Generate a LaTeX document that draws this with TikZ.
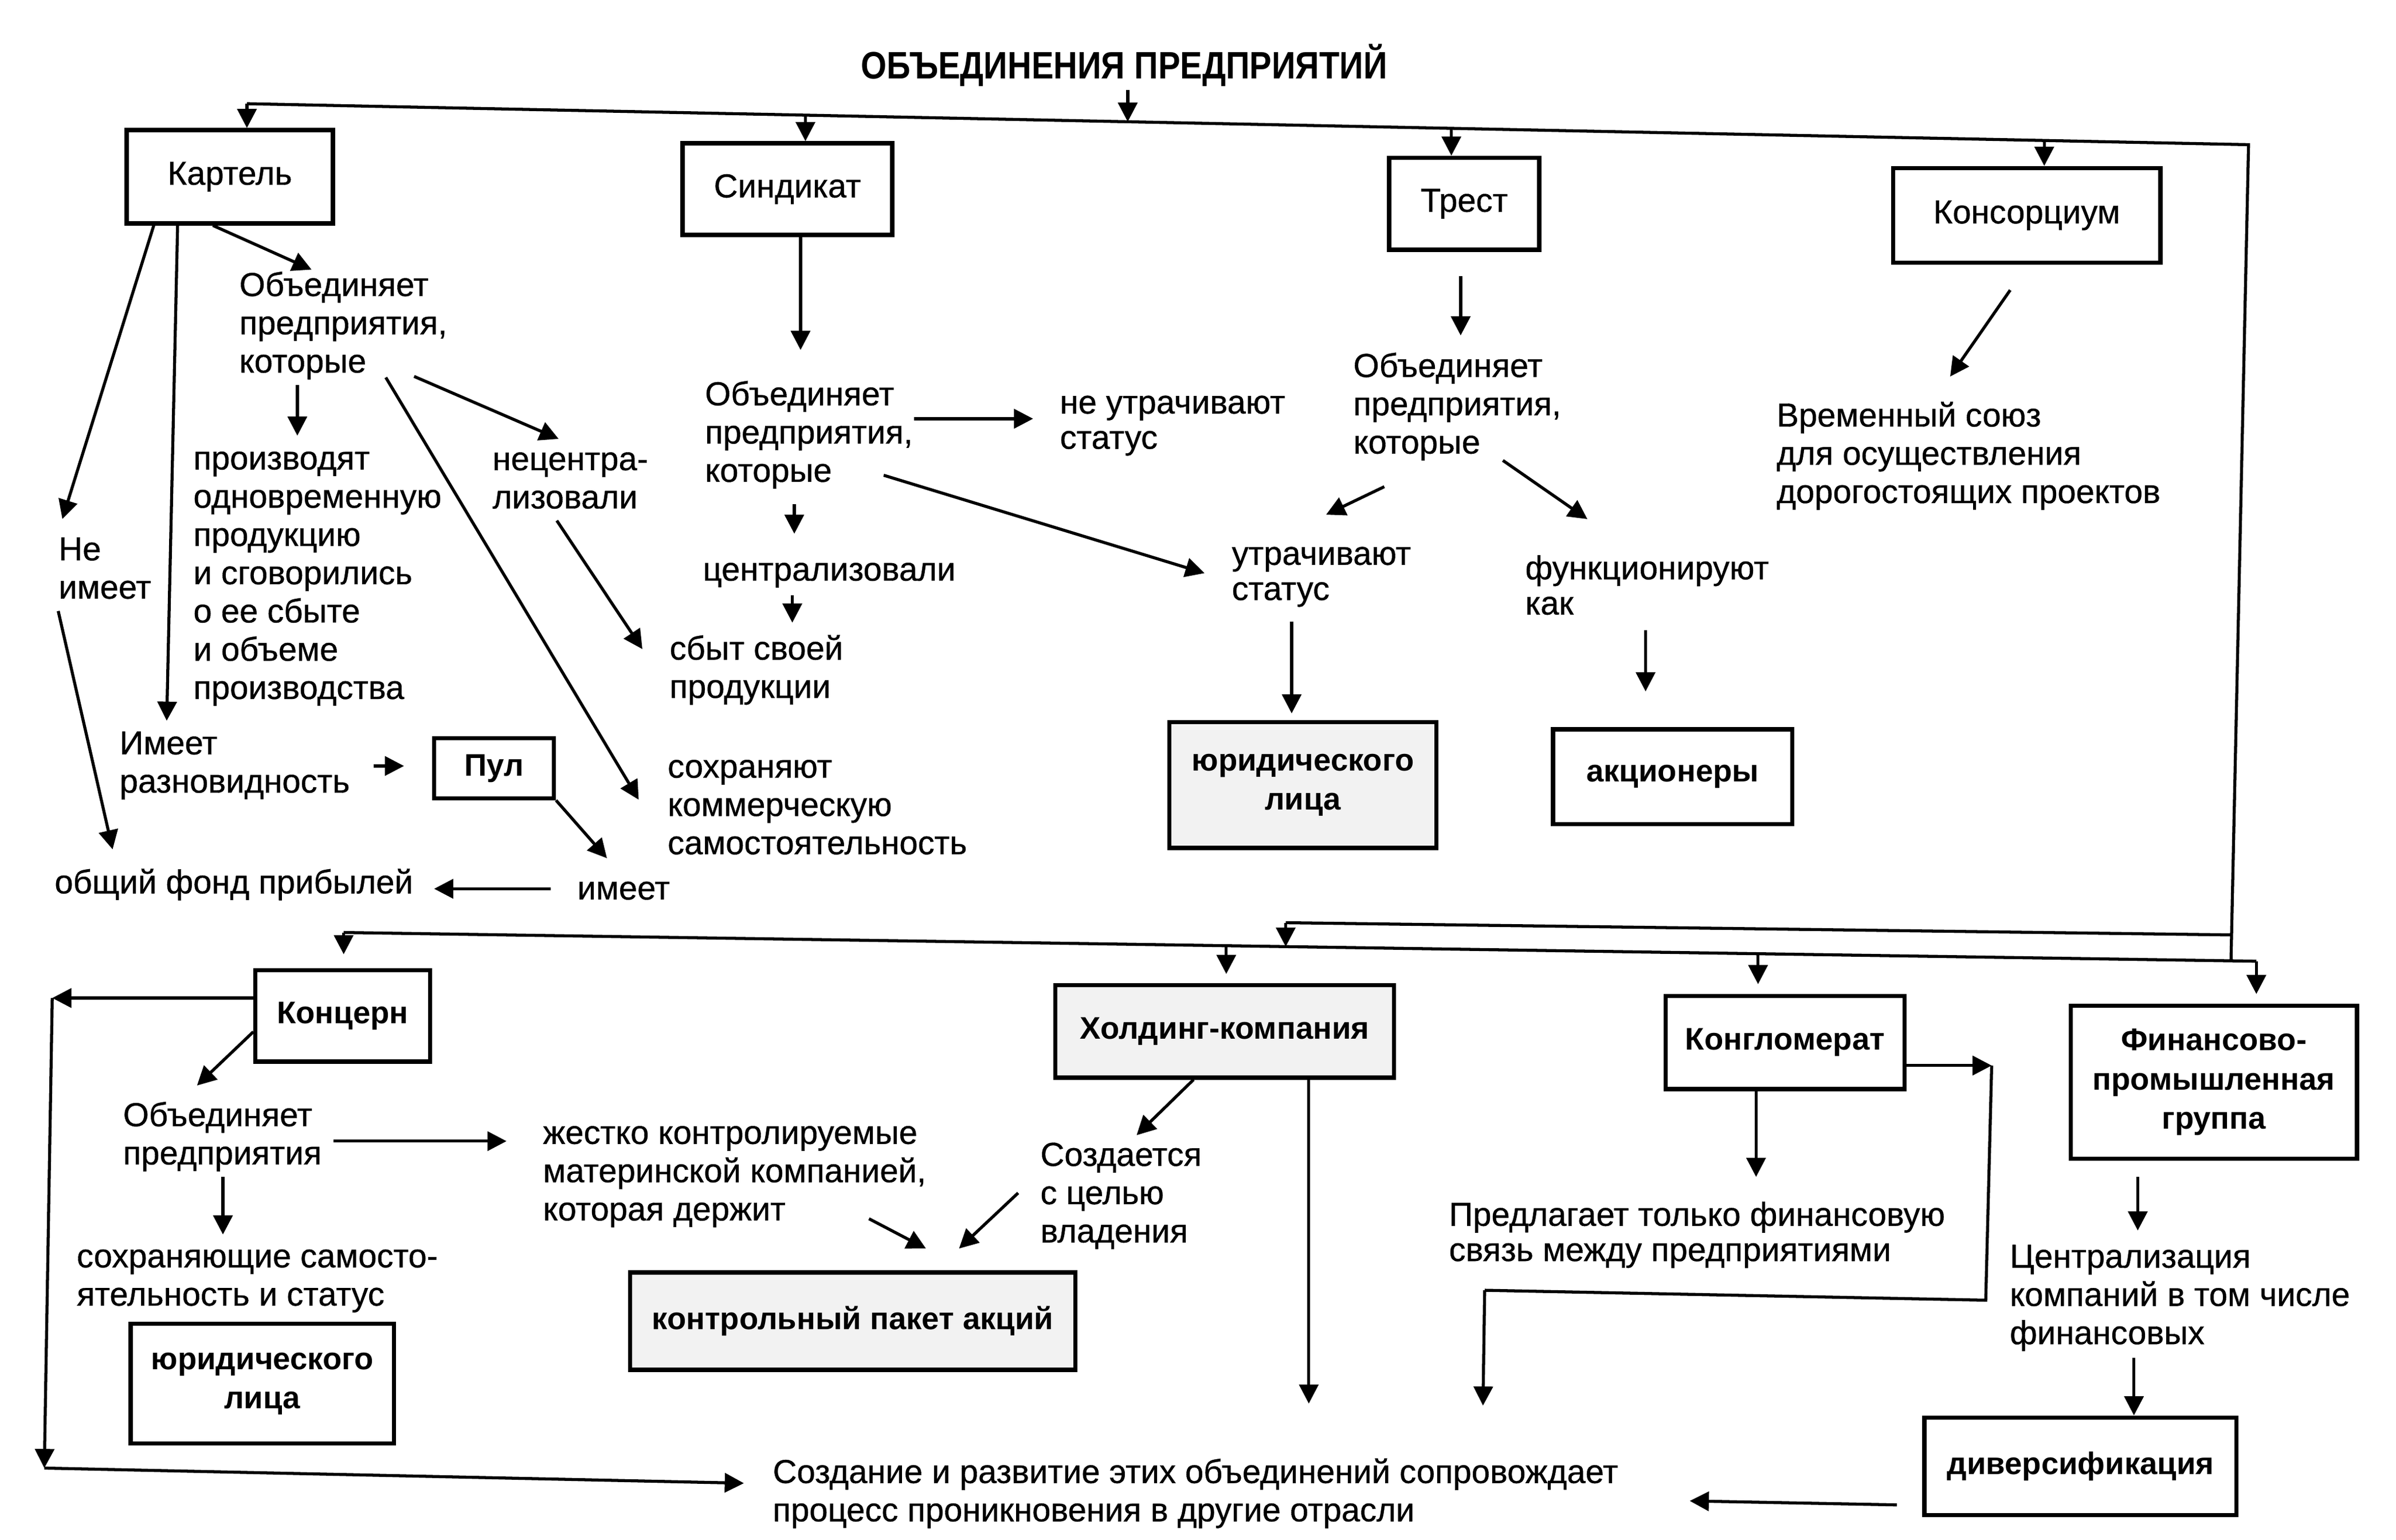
\documentclass[tikz,border=0pt]{standalone}
\usepackage{fontspec}
\setmainfont{Liberation Sans}[UprightFeatures={FakeBold=0.6}]
\usepackage{graphicx}
\usetikzlibrary{arrows.meta,calc}
\newcommand\fsN{\fontsize{16.5pt}{19pt}\selectfont}
\newcommand\fsT{\fontsize{16.5pt}{17.5pt}\selectfont}
\newcommand\fsB{\fontsize{15.5pt}{19.5pt}\selectfont\bfseries}
\tikzset{
  box/.style n args={2}{draw, line width=2.1pt, inner sep=0pt, minimum width=#1*0.26665mm,
    minimum height=#2*0.26665mm, align=center, font=\fsN},
  bbox/.style={font=\fsB, fill=black!5},
  ln/.style={line width=1.5pt, line join=miter},
  arr/.style={ln, -{Triangle[length=9.5pt,width=9.5pt]}},
  txt/.style={anchor=north west, inner sep=0pt, align=left, font=\fsN},
}
\begin{document}
\begin{tikzpicture}[x=0.26665mm, y=-0.26665mm]
\useasboundingbox (0,0) rectangle (1568,1008);

% ---------- title ----------
\node[anchor=base, inner sep=0pt, font=\fontsize{19pt}{20pt}\selectfont\bfseries] (title) at (735.7,51.7)
  {\scalebox{0.865}[1]{ОБЪЕДИНЕНИЯ ПРЕДПРИЯТИЙ}};

% ---------- boxes ----------
\node[box={135}{61}] (kart) at (150.4,115.7) {Картель};
\node[box={137.3}{60}] (sind) at (515.3,123.8) {Синдикат};
\node[box={98.3}{60.2}] (trest) at (958.2,133.4) {Трест};
\node[box={175}{62}] (kons) at (1326.3,141) {Консорциум};
\node[box={78.4}{39.2}, font=\fsB] (pul) at (323.3,502.9) {Пул};
\node[box={174.7}{82.2}, bbox] (yur1) at (852.6,513.9) {юридического\\лица};
\node[box={156.5}{62.1}, font=\fsB] (akc) at (1094.6,508.5) {акционеры};
\node[box={114.4}{59.9}, font=\fsB] (konc) at (224.3,665) {Концерн};
\node[box={221.7}{60.5}, bbox] (hold) at (801.5,675.2) {Холдинг-компания};
\node[box={156.5}{61}, font=\fsB] (kongl) at (1168.2,682.5) {Конгломерат};
\node[box={187.4}{100.1}, font=\fsB] (fpg) at (1448.8,708.5) {Финансово-\\промышленная\\группа};
\node[box={172.3}{78.2}, font=\fsB] (yur2) at (171.6,905.7) {юридического\\лица};
\node[box={291.3}{63.7}, bbox] (kpa) at (558,864.8) {контрольный пакет акций};
\node[box={204.2}{63.8}, font=\fsB] (div) at (1361.5,959.8) {диверсификация};

% ---------- texts: cartel ----------
\node[txt] (kobj) at (156.4,176) {\strut Объединяет\\\strut предприятия,\\\strut которые};
\node[txt] (kpro) at (126.3,289.5) {\strut производят\\\strut одновременную\\\strut продукцию\\\strut и сговорились\\\strut о ее сбыте\\\strut и объеме\\\strut производства};
\node[txt] (kdec) at (322.1,290) {\strut нецентра-\\\strut лизовали};
\node[txt] (kne) at (38.1,349) {\strut Не\\\strut имеет};
\node[txt] (kime) at (78,476) {\strut Имеет\\\strut разновидность};
\node[txt] (kfond) at (35.5,567) {\strut общий фонд прибылей};
\node[txt] (kimt) at (377.6,571) {\strut имеет};
\node[txt] (sbyt) at (438,414) {\strut сбыт своей\\\strut продукции};
\node[txt] (ksoh) at (436.7,491.3) {\strut сохраняют\\\strut коммерческую\\\strut самостоятельность};
% syndicate
\node[txt] (scen) at (459.7,362.3) {\strut централизовали};
\node[txt] (sobj) at (461.1,247.5) {\strut Объединяет\\\strut предприятия,\\\strut которые};
\node[txt, font=\fsT] (sne) at (693.4,254.3) {\strut не утрачивают\\\strut статус};
% trust
\node[txt] (tobj) at (885.4,229) {\strut Объединяет\\\strut предприятия,\\\strut которые};
\node[txt, font=\fsT] (tutr) at (805.9,353.3) {\strut утрачивают\\\strut статус};
\node[txt, font=\fsT] (tfun) at (997.9,362.8) {\strut функционируют\\\strut как};
% consortium
\node[txt] (kvr) at (1162.4,261.4) {\strut Временный союз\\\strut для осуществления\\\strut дорогостоящих проектов};
% lower
\node[txt] (cobj) at (80.3,719.4) {\strut Объединяет\\\strut предприятия};
\node[txt] (csoh) at (50,811.8) {\strut сохраняющие самосто-\\\strut ятельность и статус};
\node[txt] (zhes) at (355.1,731) {\strut жестко контролируемые\\\strut материнской компанией,\\\strut которая держит};
\node[txt] (hsoz) at (680.6,745.4) {\strut Создается\\\strut с целью\\\strut владения};
\node[txt, font=\fsT] (kpred) at (948,786) {\strut Предлагает только финансовую\\\strut связь между предприятиями};
\node[txt] (fcen) at (1315,812) {\strut Централизация\\\strut компаний в том числе\\\strut финансовых};
\node[txt] (sozd) at (505.5,953) {\strut Создание и развитие этих объединений сопровождает\\\strut процесс проникновения в другие отрасли};

% ---------- coordinates ----------
\coordinate (T0) at (161.6,67.9);
\coordinate (TR) at (1471.5,94.7);
\coordinate (RB) at (1460,629);
\coordinate (RB1) at (1460.4,612);
\coordinate (B1) at (841.4,604);
\coordinate (B2) at (841.4,619.7);
\coordinate (A0) at (224.9,610.4);
\coordinate (A1) at (1476.6,629.2);
\coordinate (tA) at (738,59);
\coordinate (tB) at (738,79.7);
\coordinate (ts) at (527.1,75.4);
\coordinate (tt) at (949.8,84);
\coordinate (tk) at (1337.8,92);
\coordinate (ah) at (802.5,619);
\coordinate (ak) at (1150.5,624.2);

% ---------- buses ----------
\draw[ln] (T0) -- (TR) -- (RB);
\draw[arr] (tA) -- (tB);
\draw[arr] (T0) -- (T0 |- kart.north);
\draw[arr] (ts) -- (ts |- sind.north);
\draw[arr] (tt) -- (tt |- trest.north);
\draw[arr] (tk) -- (tk |- kons.north);
\draw[ln] (RB1) -- (B1);
\draw[arr] (B1) -- (B2);
\draw[ln] (A0) -- (A1);
\draw[arr, shorten >=2.4mm] (A0) -- (A0 |- konc.north);
\draw[arr, shorten >=1.6mm] (ah) -- (ah |- hold.north);
\draw[arr, shorten >=1.7mm] (ak) -- (ak |- kongl.north);
\draw[arr, shorten >=1.7mm] (A1) -- (A1 |- fpg.north);

% ---------- cartel connectors ----------
\coordinate (c1e) at (203.9,176.5);
\coordinate (c2e) at (40.8,339.8);
\coordinate (c3e) at (109.1,471.8);
\coordinate (c4s) at (194.6,251.9); \coordinate (c4e) at (194.6,285.2);
\coordinate (c5s) at (271,246.4);   \coordinate (c5e) at (365.6,287.3);
\coordinate (c6s) at (252.5,247.1); \coordinate (c6e) at (418,523.5);
\coordinate (c7s) at (364.4,340.8); \coordinate (c7e) at (420.4,424.9);
\coordinate (c8s) at (38.1,400);    \coordinate (c8e) at (73.7,556);
\coordinate (c9s) at (244.5,501.4); \coordinate (c9e) at (264.4,501.4);
\coordinate (c10e) at (397.2,561.8);
\coordinate (c11s) at (360.4,581.8); \coordinate (c11e) at (284.1,581.8);
\draw[arr] ($(kart.south west)+(57.8,0)$) -- (c1e);
\draw[arr] ($(kart.south west)+(19.1,0)$) -- (c2e);
\draw[arr] ($(kart.south west)+(34.7,0)$) -- (c3e);
\draw[arr] (c4s) -- (c4e);
\draw[arr] (c5s) -- (c5e);
\draw[arr] (c6s) -- (c6e);
\draw[arr] (c7s) -- (c7e);
\draw[arr] (c8s) -- (c8e);
\draw[arr] (c9s) -- (c9e);
\draw[arr] (pul.south east) -- (c10e);
\draw[arr] (c11s) -- (c11e);

% ---------- syndicate connectors ----------
\coordinate (s1e) at (523.9,229.1);
\coordinate (s2s) at (598.1,274.1); \coordinate (s2e) at (676.1,274.1);
\coordinate (s3s) at (578.3,311.1); \coordinate (s3e) at (788.3,375.2);
\coordinate (s4s) at (519.8,330.2); \coordinate (s4e) at (519.8,349.4);
\coordinate (s5s) at (518.5,389.6); \coordinate (s5e) at (518.5,407.6);
\draw[arr] (sind.south -| s1e) -- (s1e);
\draw[arr] (s2s) -- (s2e);
\draw[arr] (s3s) -- (s3e);
\draw[arr] (s4s) -- (s4e);
\draw[arr] (s5s) -- (s5e);

% ---------- trust connectors ----------
\coordinate (t1s) at (955.9,180.8); \coordinate (t1e) at (955.9,219.6);
\coordinate (t2s) at (905.9,318.6); \coordinate (t2e) at (867.8,336.9);
\coordinate (t3s) at (983.5,301.4); \coordinate (t3e) at (1038.8,339.8);
\coordinate (t4s) at (845.3,406.8); \coordinate (t4e) at (845.3,467);
\coordinate (t5s) at (1076.9,412.5); \coordinate (t5e) at (1076.9,452.6);
\draw[arr] (t1s) -- (t1e);
\draw[arr] (t2s) -- (t2e);
\draw[arr] (t3s) -- (t3e);
\draw[arr] (t4s) -- (t4e);
\draw[arr] (t5s) -- (t5e);

% ---------- consortium ----------
\coordinate (k1s) at (1315.5,189.9); \coordinate (k1e) at (1276.2,246.5);
\draw[arr] (k1s) -- (k1e);

% ---------- concern ----------
\coordinate (L1) at (34.2,653.3);
\coordinate (L2) at (29,961);
\coordinate (L3) at (486.8,970.9);
\draw[arr] (konc.west |- L1) -- (L1);
\draw[arr] (L1) -- (L2);
\draw[arr] (L2) -- (L3);
\coordinate (m1s) at (165.8,675.4); \coordinate (m1e) at (128.9,710.6);
\coordinate (m2s) at (218.3,747);   \coordinate (m2e) at (331.5,747);
\coordinate (m3s) at (145.9,770.4); \coordinate (m3e) at (145.9,808.1);
\draw[arr] (m1s) -- (m1e);
\draw[arr] (m2s) -- (m2e);
\draw[arr] (m3s) -- (m3e);

% ---------- holding ----------
\coordinate (h1s) at (781.1,706.7); \coordinate (h1e) at (743.8,743.1);
\coordinate (h2s) at (568.7,797.8); \coordinate (h2e) at (606,817.3);
\coordinate (h3s) at (666.3,780.9); \coordinate (h3e) at (627.6,817.3);
\coordinate (hd) at (856.5,918.8);
\draw[arr] (h1s) -- (h1e);
\draw[arr] (h2s) -- (h2e);
\draw[arr] (h3s) -- (h3e);
\draw[arr] (hold.south -| hd) -- (hd);

% ---------- conglomerate ----------
\coordinate (kd) at (1149.2,770.4);
\coordinate (K1) at (1303.4,697.5);
\coordinate (K2) at (1299.5,851.1);
\coordinate (K3) at (971.6,844.6);
\coordinate (K4) at (970.5,920.1);
\draw[arr] (kongl.south -| kd) -- (kd);
\draw[arr] (kongl.east |- K1) -- (K1);
\draw[ln] (K1) -- (K2) -- (K3);
\draw[arr] (K3) -- (K4);

% ---------- FPG ----------
\coordinate (f1) at (1399,770.4); \coordinate (f2) at (1399,805.5);
\coordinate (f3) at (1396.5,888.8);
\coordinate (ds) at (1241.3,985.1); \coordinate (de) at (1105.8,982.5);
\draw[arr] (f1) -- (f2);
\draw[arr] (f3) -- (f3 |- div.north);
\draw[arr] (ds) -- (de);
\end{tikzpicture}
\end{document}
